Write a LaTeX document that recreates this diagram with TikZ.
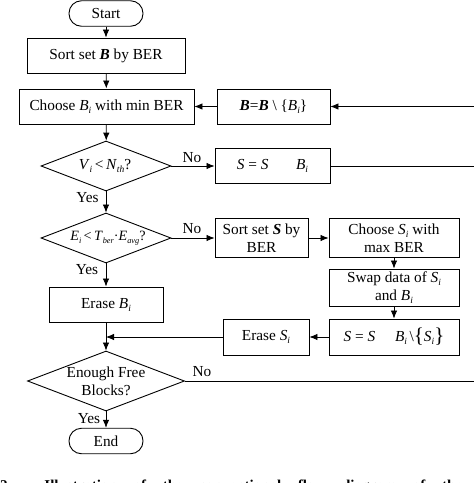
\documentclass[tikz,border=0pt]{standalone}
\usepackage{fontspec}
\setmainfont{Liberation Serif}
\usetikzlibrary{shapes.geometric,arrows.meta}
\newcommand{\diagfont}{\fontsize{15.3}{18}\selectfont}
\newcommand{\isub}[1]{\raisebox{-3pt}{\fontsize{9.5}{10}\selectfont\textit{#1}}}
\newcommand{\ssub}[1]{\raisebox{-2.7pt}{\fontsize{8.3}{9}\selectfont\textit{#1}}}
\begin{document}
\begin{tikzpicture}[x=1pt,y=-1pt,
  box/.style={draw, line width=0.9pt, inner sep=0pt, align=center, font=\diagfont},
  term/.style={box, rounded corners=12.5pt, minimum width=74pt, minimum height=25.5pt},
  dia/.style={draw, diamond, line width=0.9pt, inner sep=0pt},
  arr/.style={line width=0.8pt, -{Latex[length=8pt,width=6.5pt]}},
  ln/.style={line width=0.8pt},
  lab/.style={font=\diagfont, inner sep=0pt},
  txt/.style={font=\diagfont, inner sep=0pt, align=center}]
\useasboundingbox (0,0) rectangle (474,483);

% left column
\node[term] (start) at (106,13.5) {Start};
\node[box, minimum width=158pt, minimum height=35pt] (sortb) at (106,55.5) {Sort set \textbf{\textit{B}} by BER};
\node[box, minimum width=175pt, minimum height=35pt] (chb) at (106.5,106.5) {Choose \textit{B}\isub{i} with min BER};
\node[dia, minimum width=130pt, minimum height=50pt] (d1) at (106,166) {};
\node[txt] (d1t) at (105,166) {\textit{V}\isub{i}\,<\,\textit{N}\isub{th}?};
\node[dia, minimum width=130pt, minimum height=50pt] (d2) at (106,238) {};
\node[txt, font=\fontsize{14.2}{17}\selectfont] (d2t) at (108,238) {\textit{E}\ssub{i}\,<\,\textit{T}\ssub{ber}·\textit{E}\ssub{avg}?};
\node[box, minimum width=114pt, minimum height=35pt] (eraseb) at (106,304.5) {Erase \textit{B}\isub{i}};
\node[dia, minimum width=157pt, minimum height=60pt] (d3) at (106,381) {};
\node[txt] (d3t) at (d3) {Enough Free\\Blocks?};
\node[term] (endn) at (106,441) {End};

% right part
\node[box, minimum width=113pt, minimum height=35pt] (bset) at (273.5,106.5) {\textbf{\textit{B}}=\textbf{\textit{B}} \textbackslash\ \{\textit{B}\isub{i}\}};
\node[box, minimum width=115pt, minimum height=35pt] (sset) at (272.5,166) {\textit{S} = \textit{S}\hspace{1.8em}\textit{B}\isub{i}};
\node[box, minimum width=93pt, minimum height=39pt] (sorts) at (261.5,238) {Sort set \textbf{\textit{S}} by\\BER};
\node[box, minimum width=130pt, minimum height=39pt] (chs) at (394,238) {Choose \textit{S}\isub{i} with\\max BER};
\node[box, minimum width=130pt, minimum height=37pt] (swap) at (394,287.5) {Swap data of \textit{S}\isub{i}\\and \textit{B}\isub{i}};
\node[box, minimum width=130pt, minimum height=36pt] (ss2) at (394,337) {\textit{S} = \textit{S}\hspace{1.3em}\textit{B}\isub{i}\,\textbackslash\raisebox{-1pt}{\fontsize{21}{21}\selectfont\{}\textit{S}\isub{i}\raisebox{-1pt}{\fontsize{21}{21}\selectfont\}}};
\node[box, minimum width=86pt, minimum height=36pt] (erases) at (266,337) {Erase \textit{S}\isub{i}};

% off-picture ends and junction
\coordinate (r1) at (476,106.5);
\coordinate (r2) at (476,166);
\coordinate (r3) at (476,381);
\coordinate (j) at (106,337);

% connectors
\draw[arr] (start) -- (sortb);
\draw[arr] (sortb) -- (chb);
\draw[arr] (chb) -- (d1);
\draw[arr] (bset) -- (chb);
\draw[arr] (r1) -- (bset);
\draw[arr] (d1) -- (sset);
\draw[ln] (sset) -- (r2);
\draw[arr] (d1) -- (d2);
\draw[arr] (d2) -- (sorts);
\draw[arr] (sorts) -- (chs);
\draw[arr] (chs) -- (swap);
\draw[arr] (swap) -- (ss2);
\draw[arr] (ss2) -- (erases);
\draw[arr] (erases) -- (j);
\draw[arr] (d2) -- (eraseb);
\draw[arr] (eraseb) -- (d3);
\draw[ln] (d3) -- (r3);
\draw[arr] (d3) -- (endn);

% labels
\node[lab] (no1) at (192,158) {No};
\node[lab] (yes1) at (87.5,198) {Yes};
\node[lab] (no2) at (192,229) {No};
\node[lab] (yes2) at (87,270) {Yes};
\node[lab] (no3) at (202,372) {No};
\node[lab] (yes3) at (89,419) {Yes};

% cropped caption (cut off at the lower edge, as in the reference)
\node[anchor=base west, inner sep=0pt, font=\fontsize{15}{18}\selectfont\bfseries] (cap) at (0,490)
  {\makebox[462pt][s]{2.\hspace{2.2em}Illustration\hfill of\hfill the\hfill conventional\hfill flow\hfill diagram\hfill of\hfill the}};
\end{tikzpicture}
\end{document}
